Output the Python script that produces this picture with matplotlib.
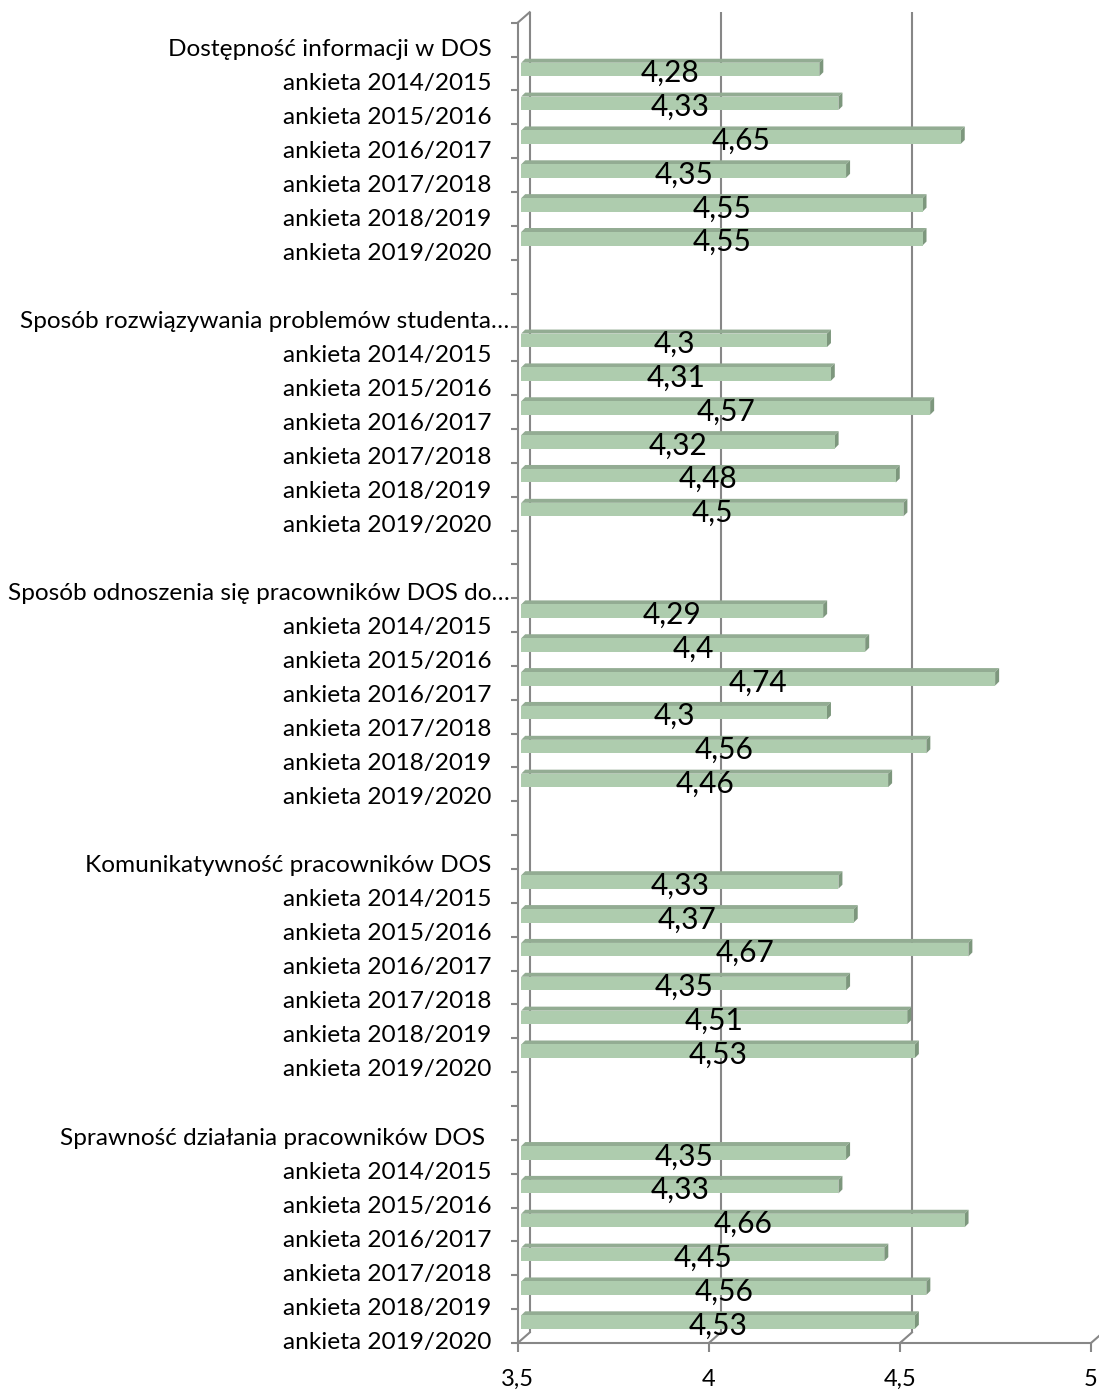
import matplotlib
matplotlib.use('Agg')
import matplotlib.pyplot as plt
from matplotlib.patches import Polygon
import numpy as np

plt.rcParams['font.family'] = ['Lato', 'DejaVu Sans']

# ---------------- data ----------------
categories = ['Dostępność informacji w DOS',
              'Sposób rozwiązywania problemów studenta…',
              'Sposób odnoszenia się pracowników DOS do…',
              'Komunikatywność pracowników DOS',
              'Sprawność działania pracowników DOS ']
years = ['ankieta 2014/2015', 'ankieta 2015/2016', 'ankieta 2016/2017',
         'ankieta 2017/2018', 'ankieta 2018/2019', 'ankieta 2019/2020']
dostepnosc = [4.28, 4.33, 4.65, 4.35, 4.55, 4.55]
rozwiazywanie = [4.3, 4.31, 4.57, 4.32, 4.48, 4.5]
odnoszenie = [4.29, 4.4, 4.74, 4.3, 4.56, 4.46]
komunikatywnosc = [4.33, 4.37, 4.67, 4.35, 4.51, 4.53]
sprawnosc = [4.35, 4.33, 4.66, 4.45, 4.56, 4.53]
series = [dostepnosc, rozwiazywanie, odnoszenie, komunikatywnosc, sprawnosc]
xticks = [3.5, 4, 4.5, 5]
xtick_labels = ['3,5', '4', '4,5', '5']

# ---------------- layout ----------------
W, H, DPI = 1099, 1391, 100
fig = plt.figure(figsize=(W / DPI, H / DPI), dpi=DPI, facecolor='white')
x0, x1 = 517.7, 1091.0      # front plane, pixel
ytop, ybot = 22.7, 1343.0
ax = fig.add_axes([x0 / W, 1 - ybot / H, (x1 - x0) / W, (ybot - ytop) / H])

rows_label, rows_value = [], []
for gi, (cat, vals) in enumerate(zip(categories, series)):
    rows_label.append(cat)
    rows_value.append(None)
    for yr, v in zip(years, vals):
        rows_label.append(yr)
        rows_value.append(v)
    if gi < len(categories) - 1:
        rows_label.append('')
        rows_value.append(None)
n = len(rows_label)

xmin, xmax = xticks[0], xticks[-1]
ax.set_xlim(xmin, xmax)
ax.set_ylim(n - 0.5, -0.5)
ax.patch.set_alpha(0)

sx = (xmax - xmin) / (x1 - x0)   # data per pixel (x)
sy = n / (ybot - ytop)           # rows per pixel (down)

gray = '#878787'
lw = 1.5

# back wall (depth offset)
bdx, bdy = 12, -10.5
for xv in xticks:
    ax.plot([xv + bdx * sx] * 2, [-0.5 + bdy * sy, n - 0.5 + bdy * sy],
            color=gray, lw=lw, clip_on=False, zorder=1, solid_capstyle='butt')
    ax.plot([xv, xv + bdx * sx], [n - 0.5, n - 0.5 + bdy * sy],
            color=gray, lw=lw, clip_on=False, zorder=1)
ax.plot([xmin, xmin + bdx * sx], [-0.5, -0.5 + bdy * sy],
        color=gray, lw=lw, clip_on=False, zorder=1)

# front axes
for s in ['top', 'right']:
    ax.spines[s].set_visible(False)
for s in ['left', 'bottom']:
    ax.spines[s].set_color(gray)
    ax.spines[s].set_linewidth(lw)
ax.set_yticks(np.arange(-0.5, n, 1.0))
ax.tick_params(axis='y', length=5, width=lw, color=gray, labelleft=False)
ax.set_xticks(xticks)
ax.set_xticklabels(xtick_labels, fontsize=17)
ax.tick_params(axis='x', length=6.5, width=lw, color=gray, pad=12)

# bars with a 3D look
front_c = '#AECCAE'
top_c = '#93AC93'
side_c = '#7D977D'
bx, by = 3.5, -4.0      # bar offset in pixels
hb = 13.5 * sy
d = 4.0
rows = [r for r, v in enumerate(rows_value) if v is not None]
vals = [v for v in rows_value if v is not None]
yc = np.array(rows) + by * sy
ax.barh(yc, np.array(vals) - xmin, left=xmin + bx * sx, height=hb,
        color=front_c, edgecolor='none', zorder=3)
for r, v, y in zip(rows, vals, yc):
    xa, xb = xmin + bx * sx, v + bx * sx
    yt, yb = y - hb / 2, y + hb / 2
    ax.add_patch(Polygon([(xa, yt), (xb, yt), (xb + d * sx, yt - d * sy),
                          (xa + d * sx, yt - d * sy)], closed=True,
                         facecolor=top_c, edgecolor='none', zorder=2, clip_on=False))
    ax.add_patch(Polygon([(xb, yt), (xb, yb), (xb + d * sx, yb - d * sy),
                          (xb + d * sx, yt - d * sy)], closed=True,
                         facecolor=side_c, edgecolor='none', zorder=2, clip_on=False))
    ax.text((xmin + v) / 2 + bx * sx, r + 8.5 * sy, f'{v:g}'.replace('.', ','),
            ha='center', va='baseline', fontsize=21.5, color='black', zorder=5)

# category labels
for r, lab in enumerate(rows_label):
    if not lab:
        continue
    xoff = -8 if lab.endswith('…') else -26
    yb_ = r + (8 + 6 * r / (n - 1) + 8.5) * sy
    ax.text(xmin + xoff * sx, yb_, lab, ha='right', va='baseline',
            fontsize=17.6, color='black', clip_on=False)

fig.savefig('out.png', dpi=DPI, facecolor='white')
